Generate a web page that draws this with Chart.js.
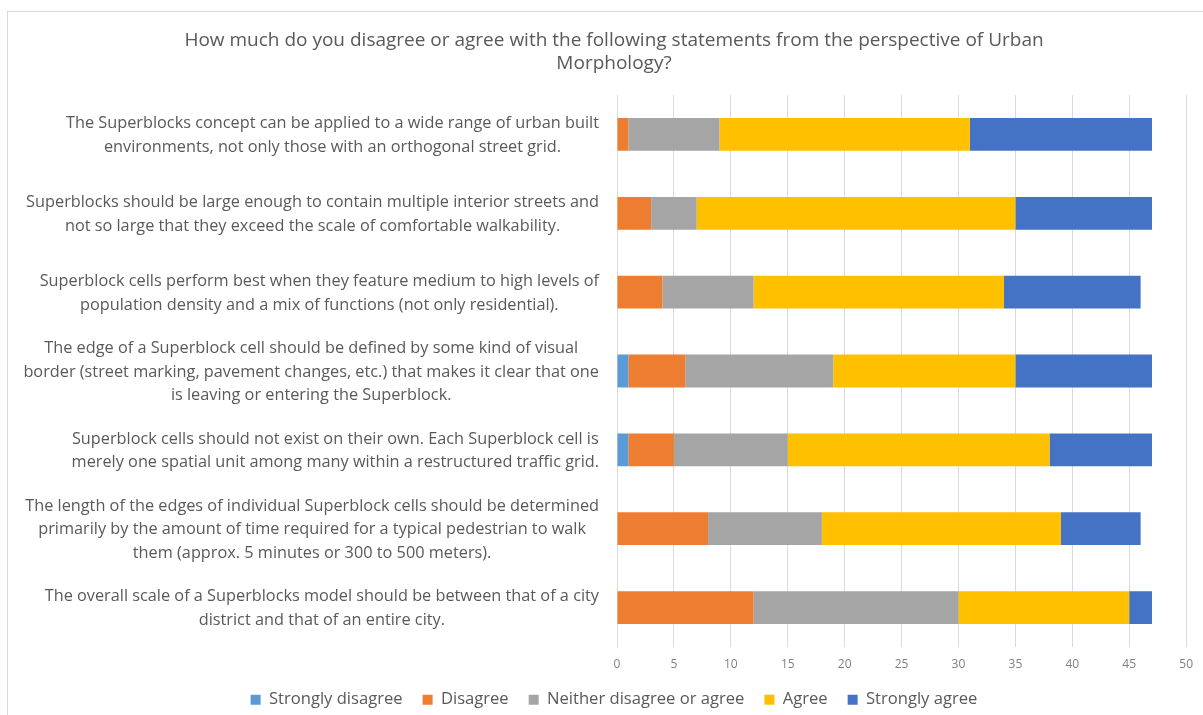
<!DOCTYPE html>
<html>
<head>
<meta charset="utf-8">
<title>Urban Morphology</title>
<script src="https://cdn.jsdelivr.net/npm/chart.js@4/dist/chart.umd.min.js"></script>
<style>
  html,body{margin:0;padding:0;background:#fff;overflow:hidden}
  #wrap{position:relative;width:1203px;height:715px}
  #frame{position:absolute;left:7px;top:11px;width:1300px;height:800px;border:1px solid #d9d9d9;pointer-events:none}
</style>
</head>
<body>
<div id="wrap">
  <canvas id="chartUM" width="1203" height="715"></canvas>
  <div id="frame"></div>
</div>
<script>
// pernyataan (tiap baris = satu label)
const statements = [
  ["The Superblocks concept can be applied to a wide range of urban built", "environments, not only those with an orthogonal street grid."],
  ["Superblocks should be large enough to contain multiple interior streets and", "not so large that they exceed the scale of comfortable walkability."],
  ["Superblock cells perform best when they feature medium to high levels of", "population density and a mix of functions (not only residential)."],
  ["The edge of a Superblock cell should be defined by some kind of visual", "border (street marking, pavement changes, etc.) that makes it clear that one", "is leaving or entering the Superblock."],
  ["Superblock cells should not exist on their own. Each Superblock cell is", "merely one spatial unit among many within a restructured traffic grid."],
  ["The length of the edges of individual Superblock cells should be determined", "primarily by the amount of time required for a typical pedestrian to walk", "them (approx. 5 minutes or 300 to 500 meters)."],
  ["The overall scale of a Superblocks model should be between that of a city", "district and that of an entire city."]
];

const stronglyDisagree = [0, 0, 0, 1, 1, 0, 0];
const disagree         = [1, 3, 4, 5, 4, 8, 12];
const neither          = [8, 4, 8, 13, 10, 10, 18];
const agree            = [22, 28, 22, 16, 23, 21, 15];
const stronglyAgree    = [16, 12, 12, 12, 9, 7, 2];

const xMax  = 50;
const xStep = 5;

const TEXT = "#595959";
const FONT = "'Open Sans', sans-serif";

// label kiri: baris di-center, blok rata kanan ke sumbu
const rowLabels = {
  id: "rowLabels",
  afterDraw(chart){
    const { ctx, scales: { y } } = chart;
    ctx.save();
    ctx.font = "16.3px " + FONT;
    ctx.fillStyle = TEXT;
    ctx.textAlign = "center";
    ctx.textBaseline = "middle";
    statements.forEach((lines, i) => {
      const cy = y.getPixelForValue(i) + 1;
      const w = Math.max(...lines.map(l => ctx.measureText(l).width));
      const cx = y.right - 18 - w / 2;
      lines.forEach((l, j) => ctx.fillText(l, cx, cy + (j - (lines.length - 1) / 2) * 23.5));
    });
    ctx.restore();
  }
};

const ds = (label, data, color) => ({ label, data, backgroundColor: color, barPercentage: 0.52, categoryPercentage: 0.8 });

new Chart(document.getElementById("chartUM"), {
  type: "bar",
  data: {
    labels: statements,
    datasets: [
      ds("Strongly disagree", stronglyDisagree, "#5B9BD5"),
      ds("Disagree", disagree, "#ED7D31"),
      ds("Neither disagree or agree", neither, "#A5A5A5"),
      ds("Agree", agree, "#FFC000"),
      ds("Strongly agree", stronglyAgree, "#4472C4")
    ]
  },
  options: {
    indexAxis: "y",
    responsive: false,
    animation: false,
    layout: { padding: { left: 36, right: 11, top: 0, bottom: -3 } },
    plugins: {
      title: {
        display: true,
        text: ["How much do you disagree or agree with the following statements from the perspective of Urban", "Morphology?"],
        color: TEXT,
        font: { family: FONT, size: 19, weight: "normal", lineHeight: 23 / 19 },
        padding: { top: 29, bottom: 20 }
      },
      legend: {
        position: "bottom",
        labels: { color: TEXT, font: { family: FONT, size: 16.6 }, boxWidth: 10, boxHeight: 10, padding: 20 }
      },
      tooltip: { enabled: false }
    },
    scales: {
      x: {
        stacked: true,
        min: 0, max: xMax,
        ticks: { stepSize: xStep, color: "#808080", font: { family: FONT, size: 12 }, padding: 10 },
        grid: { color: "#d9d9d9", drawTicks: false },
        border: { display: false },
        afterFit: s => { s.height = 24.4; }
      },
      y: {
        stacked: true,
        ticks: { display: false },
        grid: { display: false },
        border: { display: true, color: "#d9d9d9" },
        afterFit: s => { s.width = 581; }
      }
    }
  },
  plugins: [rowLabels]
});
</script>
</body>
</html>
